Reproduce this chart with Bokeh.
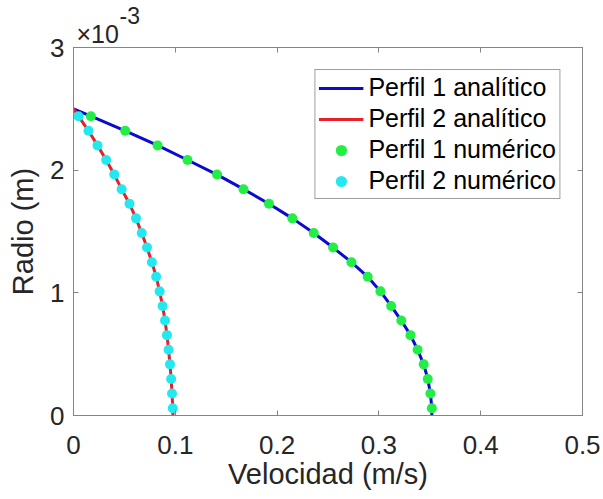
from bokeh.plotting import figure
from bokeh.models import Range1d, FixedTicker, CustomJSTickFormatter, LinearAxis, Title, Legend, LegendItem
from bokeh.embed import file_html
from bokeh.resources import INLINE

# ---- data ----
# radius of the numerical nodes, in metres
radio_num = [0.0595e-3, 0.179e-3, 0.298e-3, 0.417e-3, 0.536e-3, 0.655e-3, 0.774e-3,
             0.893e-3, 1.012e-3, 1.131e-3, 1.250e-3, 1.369e-3, 1.488e-3, 1.607e-3,
             1.726e-3, 1.845e-3, 1.964e-3, 2.083e-3, 2.202e-3, 2.321e-3, 2.440e-3]
v1_num = [0.352, 0.3506, 0.348, 0.344, 0.338, 0.331, 0.322, 0.312, 0.3015, 0.289,
          0.273, 0.255, 0.236, 0.215, 0.192, 0.167, 0.141, 0.112, 0.0826, 0.0508, 0.0171]
v2_num = [0.0975, 0.0968, 0.0959, 0.0948, 0.0934, 0.0918, 0.0899, 0.0875, 0.0846, 0.0812,
          0.0770, 0.0722, 0.0670, 0.0614, 0.0550, 0.0473, 0.0400, 0.0321, 0.0236, 0.0147, 0.0049]

# analytic curves (same shape, including centre and wall)
radio_an = [0.0, 0.0595e-3, 0.179e-3, 0.298e-3, 0.417e-3, 0.536e-3, 0.655e-3, 0.774e-3,
            0.893e-3, 1.012e-3, 1.131e-3, 1.250e-3, 1.369e-3, 1.488e-3, 1.607e-3,
            1.726e-3, 1.845e-3, 1.964e-3, 2.083e-3, 2.202e-3, 2.321e-3, 2.440e-3, 2.5e-3]
v1_an = [0.352, 0.352, 0.3506, 0.348, 0.344, 0.338, 0.331, 0.322, 0.312, 0.3015, 0.289,
         0.273, 0.255, 0.236, 0.215, 0.192, 0.167, 0.141, 0.112, 0.0826, 0.0508, 0.0171, 0.0]
v2_an = [0.0977, 0.0975, 0.0968, 0.0959, 0.0948, 0.0934, 0.0918, 0.0899, 0.0875, 0.0846,
         0.0812, 0.0770, 0.0722, 0.0670, 0.0614, 0.0550, 0.0473, 0.0400, 0.0321, 0.0236,
         0.0147, 0.0049, 0.0]

x_ticks = [0, 0.1, 0.2, 0.3, 0.4, 0.5]
y_ticks = [0, 1e-3, 2e-3, 3e-3]

labels = ["Perfil 1 analítico", "Perfil 2 analítico", "Perfil 1 numérico", "Perfil 2 numérico"]

FONT = "Liberation Sans"
AX = "#262626"
BOX = "#858585"

p = figure(width=603, height=499, output_backend="svg", toolbar_location=None, title=None,
           x_range=Range1d(0, 0.5), y_range=Range1d(0, 3e-3),
           min_border_left=73, min_border_right=21, min_border_top=47, min_border_bottom=84)
p.xgrid.visible = False
p.ygrid.visible = False
p.outline_line_color = BOX
p.outline_line_width = 1
p.background_fill_color = "white"
p.border_fill_color = "white"

# main axes
p.xaxis.ticker = FixedTicker(ticks=x_ticks)
p.yaxis.ticker = FixedTicker(ticks=y_ticks)
p.xaxis.formatter = CustomJSTickFormatter(code="return tick == 0 ? '0' : tick.toFixed(1);")
p.yaxis.formatter = CustomJSTickFormatter(code="return (tick*1000).toFixed(0);")
for ax in (p.xaxis[0], p.yaxis[0]):
    ax.axis_line_color = BOX
    ax.major_tick_line_color = BOX
    ax.major_tick_in = 5
    ax.major_tick_out = 0
    ax.minor_tick_line_color = None
    ax.major_label_text_font = FONT
    ax.major_label_text_font_size = "26px"
    ax.major_label_text_color = AX
    ax.axis_label_text_font = FONT
    ax.axis_label_text_font_size = "29px"
    ax.axis_label_text_font_style = "normal"
    ax.axis_label_text_color = AX
p.xaxis.axis_label = "Velocidad (m/s)"
p.yaxis.axis_label = "Radio (m)"
p.xaxis.major_label_standoff = 20
p.xaxis.axis_label_standoff = 1
p.yaxis.major_label_standoff = 9
p.yaxis.axis_label_standoff = 8

# box ticks on top and right (no labels)
top = LinearAxis(ticker=FixedTicker(ticks=x_ticks), major_label_text_font_size="1px",
                 major_label_text_color=None, axis_label_standoff=0,
                 axis_line_color=BOX, major_tick_line_color=BOX, major_tick_in=5,
                 major_tick_out=0, minor_tick_line_color=None, major_label_standoff=0)
right = LinearAxis(ticker=FixedTicker(ticks=y_ticks), major_label_text_font_size="1px",
                   major_label_text_color=None, axis_label_standoff=0,
                   axis_line_color=BOX, major_tick_line_color=BOX, major_tick_in=5,
                   major_tick_out=0, minor_tick_line_color=None, major_label_standoff=0)
p.add_layout(top, "above")
p.add_layout(right, "right")

# exponent of the y axis, drawn as two small titles above the frame
p.add_layout(Title(text="×10", align="left", offset=3, standoff=0, text_font=FONT,
                   text_font_size="25px", text_font_style="normal", text_color=AX), "above")
p.add_layout(Title(text="-3", align="left", offset=46, standoff=-13, text_font=FONT,
                   text_font_size="23px", text_font_style="normal", text_color=AX), "above")

# glyphs
l1 = p.line(v1_an, radio_an, line_color="#0a0ad2", line_width=3)
l2 = p.line(v2_an, radio_an, line_color="#e8202a", line_width=3)
s1 = p.scatter(v1_num, radio_num, size=10, fill_color="#22ee44", line_color=None)
s2 = p.scatter(v2_num, radio_num, size=10, fill_color="#22e8f0", line_color=None)

legend = Legend(items=[LegendItem(label=labels[0], renderers=[l1]),
                       LegendItem(label=labels[1], renderers=[l2]),
                       LegendItem(label=labels[2], renderers=[s1]),
                       LegendItem(label=labels[3], renderers=[s2])],
                location="top_right", margin=22, padding=3, spacing=2,
                glyph_width=45, glyph_height=28, label_height=28, label_standoff=5,
                label_text_font=FONT, label_text_font_size="25px", label_text_color="#000000",
                border_line_color="#404040", border_line_width=1,
                background_fill_color="white", background_fill_alpha=1)
p.add_layout(legend)

open("out.html", "w").write(file_html(p, INLINE))
